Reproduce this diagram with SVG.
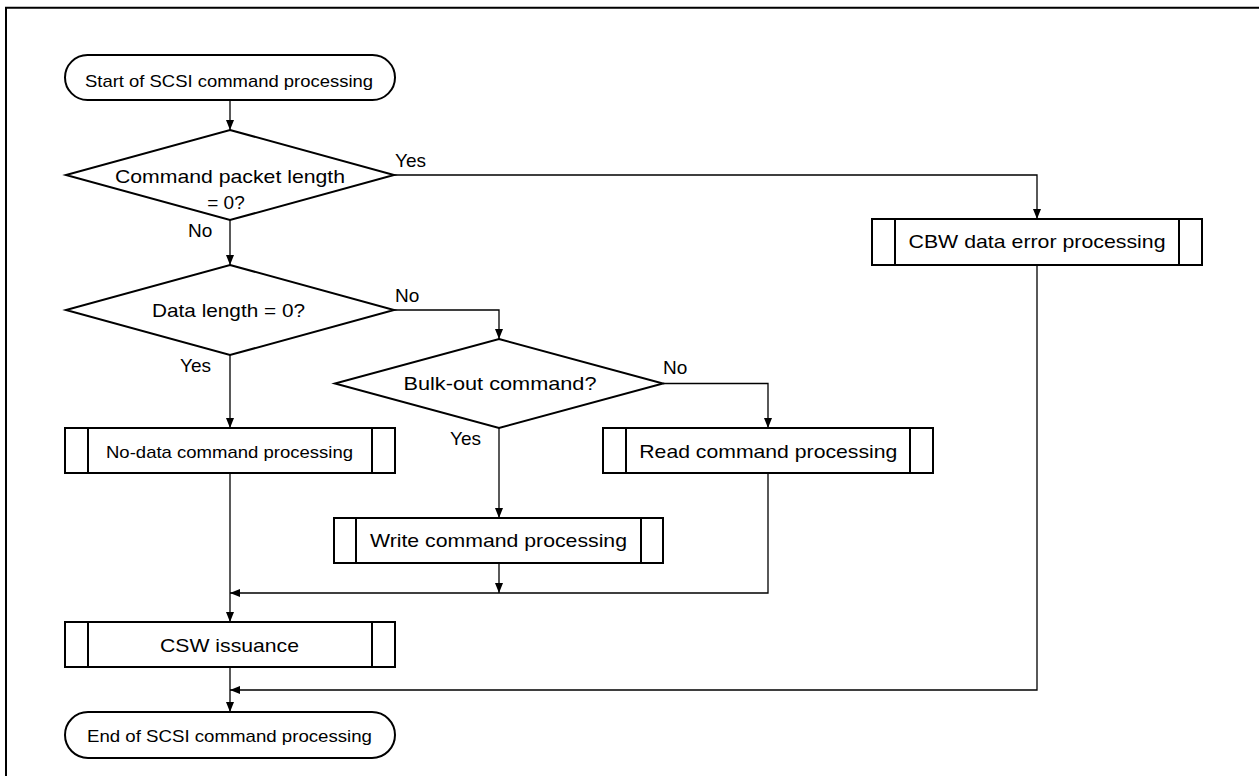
<svg xmlns="http://www.w3.org/2000/svg" width="1259" height="776" viewBox="0 0 1259 776">
  <style>
    .shape { fill: #fff; stroke: #000; stroke-width: 2; }
    .bar { stroke: #000; stroke-width: 2; }
    .wire { fill: none; stroke: #000; stroke-width: 1.3; }
    .t { font-family: "Liberation Sans", Arial, sans-serif; fill: #000; }
    .big { font-size: 19px; text-anchor: middle; }
    .small { font-size: 17px; text-anchor: middle; }
    .lbl { font-size: 19px; text-anchor: start; }
  </style>
  <defs>
    <marker id="arrow" markerUnits="userSpaceOnUse" markerWidth="10" markerHeight="8" refX="10" refY="4" orient="auto">
      <path d="M0,0 L10,4 L0,8 Z" fill="#000"/>
    </marker>
  </defs>

  <rect width="1259" height="776" fill="#fff"/>
  <!-- frame -->
  <path d="M6,776 V7.7 H1259" fill="none" stroke="#000" stroke-width="2"/>

  <!-- connectors -->
  <g id="connectors" class="wire">
    <path d="M230,100 V130" marker-end="url(#arrow)"/>
    <path d="M394,175 H1037 V219" marker-end="url(#arrow)"/>
    <path d="M230,220 V265" marker-end="url(#arrow)"/>
    <path d="M394,310 H499 V339" marker-end="url(#arrow)"/>
    <path d="M230,355 V428" marker-end="url(#arrow)"/>
    <path d="M663,383.5 H768 V428" marker-end="url(#arrow)"/>
    <path d="M499,428 V518" marker-end="url(#arrow)"/>
    <path d="M230,473 V622" marker-end="url(#arrow)"/>
    <path d="M499,563 V593" marker-end="url(#arrow)"/>
    <path d="M768,473 V593 H230" marker-end="url(#arrow)"/>
    <path d="M230,667 V712" marker-end="url(#arrow)"/>
    <path d="M1037,265 V690 H230" marker-end="url(#arrow)"/>
  </g>

  <!-- start terminal -->
  <g id="start">
    <rect class="shape" x="65" y="55" width="330" height="45" rx="22.5"/>
    <text class="t small" x="229" y="86.5" textLength="288" lengthAdjust="spacingAndGlyphs">Start of SCSI command processing</text>
  </g>

  <!-- decision: command packet length -->
  <g id="dec-cmdlen">
    <polygon class="shape" points="230,130 394,175 230,220 66,175"/>
    <text class="t big" x="230" y="183" textLength="230" lengthAdjust="spacingAndGlyphs">Command packet length</text>
    <text class="t big" x="226" y="208.5">= 0?</text>
  </g>

  <!-- decision: data length -->
  <g id="dec-datalen">
    <polygon class="shape" points="230,265 394,310 230,355 66,310"/>
    <text class="t big" x="228.5" y="316.7" textLength="153" lengthAdjust="spacingAndGlyphs">Data length = 0?</text>
  </g>

  <!-- decision: bulk-out -->
  <g id="dec-bulkout">
    <polygon class="shape" points="499,339 663,383.5 499,428 335,383.5"/>
    <text class="t big" x="500" y="390" textLength="193" lengthAdjust="spacingAndGlyphs">Bulk-out command?</text>
  </g>

  <!-- CBW data error processing -->
  <g id="proc-cbw-error">
    <rect class="shape" x="872" y="219" width="330" height="46"/>
    <line class="bar" x1="895" y1="219" x2="895" y2="265"/>
    <line class="bar" x1="1179" y1="219" x2="1179" y2="265"/>
    <text class="t big" x="1037" y="248.3" textLength="257" lengthAdjust="spacingAndGlyphs">CBW data error processing</text>
  </g>

  <!-- no-data command processing -->
  <g id="proc-nodata">
    <rect class="shape" x="65" y="428" width="330" height="45"/>
    <line class="bar" x1="88" y1="428" x2="88" y2="473"/>
    <line class="bar" x1="372" y1="428" x2="372" y2="473"/>
    <text class="t small" x="229.5" y="458.3" textLength="247" lengthAdjust="spacingAndGlyphs">No-data command processing</text>
  </g>

  <!-- read command processing -->
  <g id="proc-read">
    <rect class="shape" x="603" y="428" width="330" height="45"/>
    <line class="bar" x1="626" y1="428" x2="626" y2="473"/>
    <line class="bar" x1="910" y1="428" x2="910" y2="473"/>
    <text class="t big" x="768.3" y="458.3" textLength="258" lengthAdjust="spacingAndGlyphs">Read command processing</text>
  </g>

  <!-- write command processing -->
  <g id="proc-write">
    <rect class="shape" x="334" y="518" width="329" height="45"/>
    <line class="bar" x1="356" y1="518" x2="356" y2="563"/>
    <line class="bar" x1="641" y1="518" x2="641" y2="563"/>
    <text class="t big" x="498.5" y="546.7" textLength="257" lengthAdjust="spacingAndGlyphs">Write command processing</text>
  </g>

  <!-- CSW issuance -->
  <g id="proc-csw">
    <rect class="shape" x="65" y="622" width="330" height="45"/>
    <line class="bar" x1="88" y1="622" x2="88" y2="667"/>
    <line class="bar" x1="372" y1="622" x2="372" y2="667"/>
    <text class="t big" x="229.5" y="651.7" textLength="139" lengthAdjust="spacingAndGlyphs">CSW issuance</text>
  </g>

  <!-- end terminal -->
  <g id="end">
    <rect class="shape" x="65" y="712" width="330" height="46" rx="23"/>
    <text class="t small" x="229.5" y="741.7" textLength="285" lengthAdjust="spacingAndGlyphs">End of SCSI command processing</text>
  </g>

  <!-- branch labels -->
  <g id="labels">
    <text class="t lbl" x="395" y="166.7">Yes</text>
    <text class="t lbl" x="188" y="237">No</text>
    <text class="t lbl" x="395" y="301.7">No</text>
    <text class="t lbl" x="180" y="371.7">Yes</text>
    <text class="t lbl" x="663" y="374">No</text>
    <text class="t lbl" x="450" y="445">Yes</text>
  </g>
</svg>
